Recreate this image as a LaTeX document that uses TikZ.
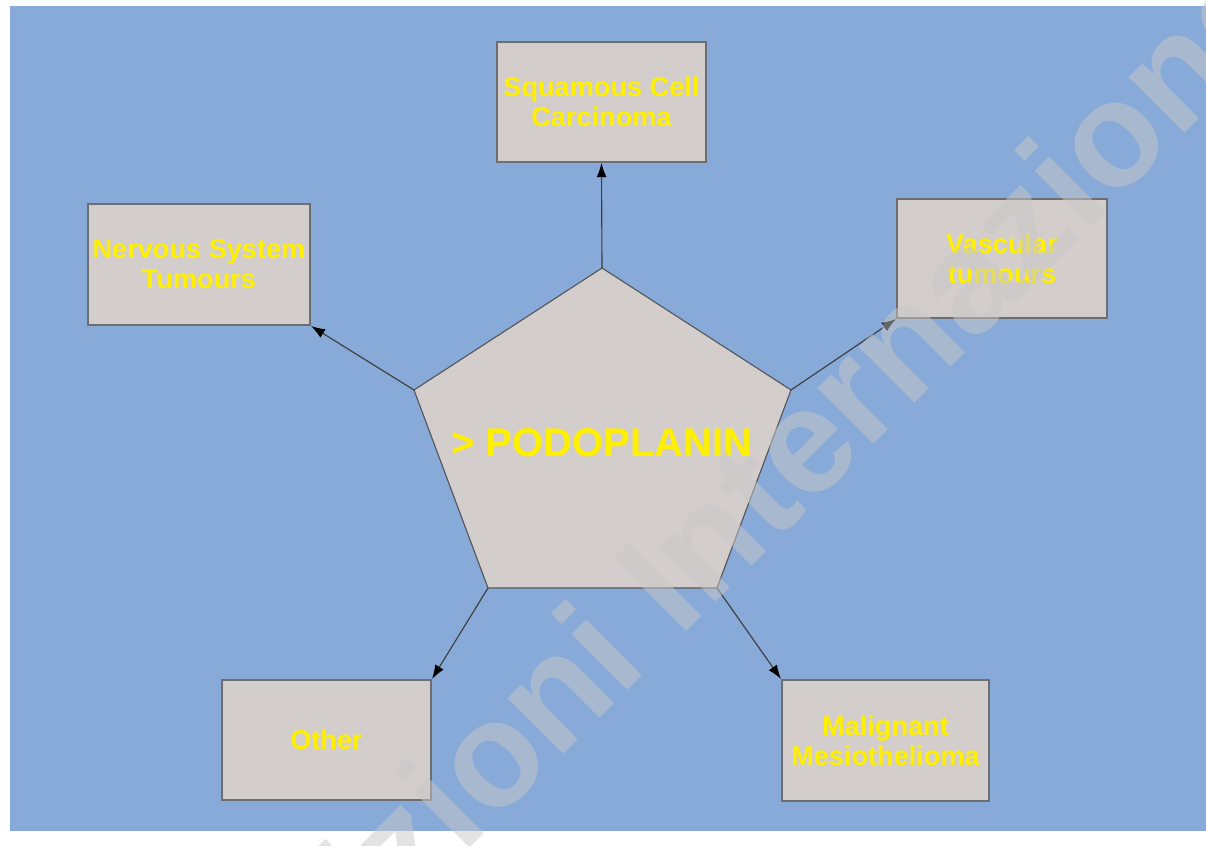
\documentclass[tikz,border=0pt]{standalone}
\usepackage{fontspec}
\setmainfont{Liberation Sans}
\usetikzlibrary{arrows.meta}
\definecolor{bgblue}{HTML}{88AAD8}
\definecolor{boxfill}{HTML}{D3CDCB}
\definecolor{boxline}{HTML}{6E6E72}
\definecolor{penline}{HTML}{55555A}
\definecolor{txtyellow}{HTML}{FFF000}
\definecolor{arrowline}{HTML}{3C3C3C}
\definecolor{wmgray}{HTML}{C8C8C8}
\tikzset{
 box/.style={draw=boxline, line width=1.4pt, fill=boxfill, inner sep=0pt, text=txtyellow,
   font=\bfseries\fontsize{19.3pt}{21.5pt}\selectfont, align=center},
 conn/.style={draw=arrowline, line width=0.8pt, -{Latex[length=10pt,width=7pt,fill=black,color=black]}},
 pent/.style={draw=penline, line width=0.8pt, fill=boxfill},
 wmark/.style={rotate=45, anchor=base west, text=wmgray, text opacity=0.5, inner sep=0pt,
   font=\bfseries\fontsize{106pt}{106pt}\selectfont},
}
\begin{document}
\begin{tikzpicture}[x=0.025cm,y=-0.025cm]
\useasboundingbox (0,0) rectangle (1206,846);
\fill[bgblue] (10,6) rectangle (1206,831);

% pentagon
\coordinate (p1) at (602,268);
\coordinate (p2) at (791,390);
\coordinate (p3) at (717,588);
\coordinate (p4) at (488,588);
\coordinate (p5) at (414,390);
\draw[pent] (p1) -- (p2) -- (p3) -- (p4) -- (p5) -- cycle;
\node[text=txtyellow, font=\bfseries\fontsize{28.5pt}{30pt}\selectfont, inner sep=0pt] (pod) at (602,443) {> PODOPLANIN};

% boxes
\node[box, minimum width=5.225cm, minimum height=3.0cm] (sq) at (601.5,102) {Squamous Cell\\Carcinoma};
\node[box, minimum width=5.55cm, minimum height=3.025cm] (ns) at (199,264.5) {Nervous System\\Tumours};
\node[box, minimum width=5.25cm, minimum height=2.975cm] (vt) at (1002,258.5) {Vascular\\tumours};
\node[box, minimum width=5.225cm, minimum height=3.0cm] (ot) at (326.5,740) {Other};
\node[box, minimum width=5.175cm, minimum height=3.025cm] (mm) at (885.5,740.5) {Malignant\\Mesiothelioma};

% connectors
\draw[conn] (p1) -- (sq.south);
\draw[conn] (p5) -- (ns.south east);
\draw[conn] (p2) -- (vt.south west);
\draw[conn] (p4) -- (ot.north east);
\draw[conn] (p3) -- (mm.north west);

% watermark
\begin{scope}
\clip (0,0) rectangle (1206,846);
\node[wmark] (wm) at (246,1072) {Edizioni Internazionali};
\end{scope}
\end{tikzpicture}
\end{document}
